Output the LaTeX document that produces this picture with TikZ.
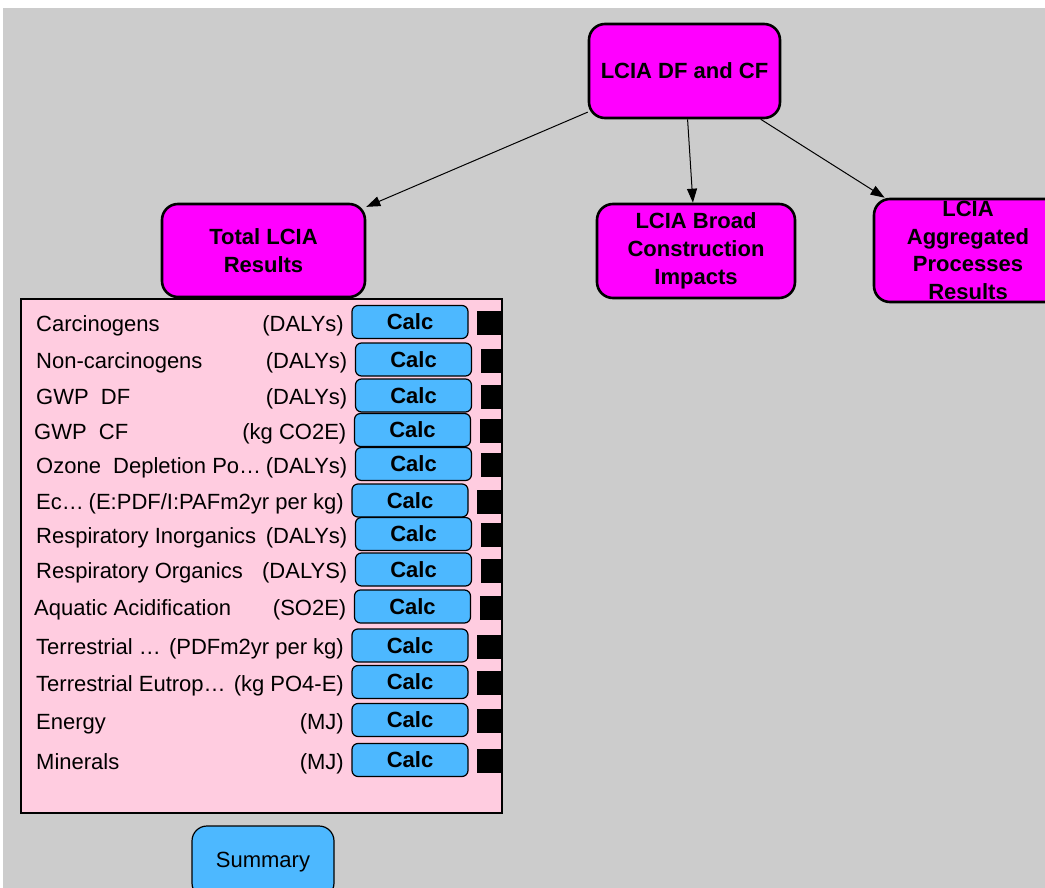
\documentclass[tikz,border=0pt]{standalone}
\usepackage{fontspec}
\setmainfont{Liberation Sans}
\usetikzlibrary{arrows.meta}
\definecolor{canvas}{RGB}{204,204,204}
\definecolor{modulefill}{RGB}{255,0,255}
\definecolor{panelfill}{RGB}{255,204,224}
\definecolor{buttonfill}{RGB}{77,184,255}

\begin{document}
\begin{tikzpicture}[x=1pt,y=-1pt,
  module/.style={draw=black, line width=2.6pt, fill=modulefill, rounded corners=16pt,
    align=center, inner sep=0pt, font=\fontsize{22}{28}\selectfont\bfseries},
  calcbtn/.style={draw=black, line width=1.2pt, fill=buttonfill, rounded corners=6pt,
    minimum width=116pt, minimum height=33pt, inner sep=0pt,
    font=\fontsize{22}{24}\selectfont\bfseries},
  rowlabel/.style={anchor=base west, inner sep=0pt, font=\fontsize{22}{24}\selectfont},
  rowunit/.style={anchor=base east, inner sep=0pt, font=\fontsize{22}{24}\selectfont},
  outlet/.style={fill=black, inner sep=0pt, minimum height=24pt, anchor=west},
  link/.style={-{Triangle[length=14pt,width=10pt]}, line width=1pt}
]
% page and canvas
\useasboundingbox (0,0) rectangle (1045,888);
\clip (0,0) rectangle (1045,888);
\fill[white] (0,0) rectangle (1045,888);
\fill[canvas] (3,8) rectangle (1045,888);

% modules
\node[module, minimum width=191pt, minimum height=94pt] (lcia) at (684.5,71) {LCIA DF and CF};
\node[module, minimum width=203pt, minimum height=93pt] (total) at (263.5,250.5) {Total LCIA\\Results};
\node[module, minimum width=198pt, minimum height=94pt] (broad) at (696,251) {LCIA Broad\\Construction\\Impacts};
\node[module, minimum width=188pt, minimum height=103pt, font=\fontsize{22}{27.7}\selectfont\bfseries] (aggr) at (968,250.5) {LCIA\\Aggregated\\Processes\\Results};

% influence arrows
\draw[link] (lcia) -- (total);
\draw[link] (lcia) -- (broad);
\draw[link] (lcia) -- (aggr);

% results panel
\node[draw=black, line width=2.4pt, fill=panelfill, minimum width=481pt, minimum height=514pt, inner sep=0pt] (panel) at (261.5,556) {};

% one row per impact category: label, unit, button and outlet
\foreach \i/\c/\dx/\lx/\lab/\unit in {
  1/322/0/36/{Carcinogens}/{(DALYs)},
  2/359.5/3.5/36/{Non-carcinogens}/{(DALYs)},
  3/395.5/3.5/36/{GWP\ \ DF}/{(DALYs)},
  4/430/2.5/34/{GWP\ \ CF}/{(kg CO2E)},
  5/464/3.5/36/{Ozone\ \ Depletion Po…}/{(DALYs)},
  6/500.5/0/36/{Ec…}/{(E:PDF/I:PAFm2yr per kg)},
  7/534/3.5/36/{Respiratory Inorganics}/{(DALYs)},
  8/569.5/3.5/36/{Respiratory Organics}/{(DALYS)},
  9/606.5/2.5/34/{Aquatic Acidification}/{(SO2E)},
  10/645.5/0/36/{Terrestrial …}/{(PDFm2yr per kg)},
  11/682/0/36/{Terrestrial Eutrop…}/{(kg PO4-E)},
  12/720/0/36/{Energy}/{(MJ)},
  13/760/0/36/{Minerals}/{(MJ)}}
{
  \node[rowlabel] (lab\i) at (\lx,{\c+9}) {\lab};
  \node[rowunit] (unit\i) at ({344+\dx},{\c+9}) {\unit};
  \node[calcbtn] (calc\i) at ({410+\dx},\c) {Calc};
  \node[outlet, minimum width={(26-\dx)*1pt}] (out\i) at ({477+\dx},{\c+1}) {};
}

% summary button
\node[draw=black, line width=1.2pt, fill=buttonfill, rounded corners=15pt,
  minimum width=142pt, minimum height=72pt, inner sep=0pt,
  font=\fontsize{22}{24}\selectfont] (summary) at (263,862) {Summary};
\end{tikzpicture}
\end{document}
